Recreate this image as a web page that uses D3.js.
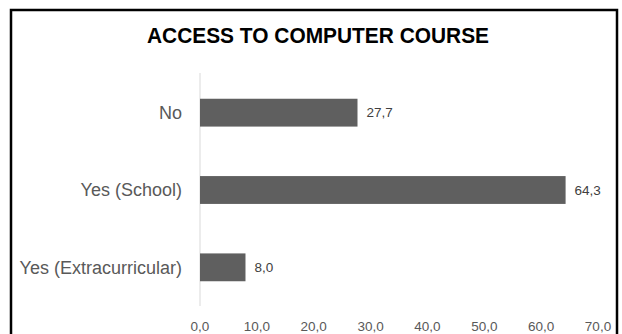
<!DOCTYPE html>
<html>
<head>
<meta charset="utf-8">
<script src="https://cdn.jsdelivr.net/npm/d3@7"></script>
<style>
  body { margin: 0; background: #fff; }
  svg { display: block; }
</style>
</head>
<body>
<script>
const categories = ["No", "Yes (School)", "Yes (Extracurricular)"];
const values = [27.7, 64.3, 8.0];
const tickValues = [0, 10, 20, 30, 40, 50, 60, 70];
const title = "ACCESS TO COMPUTER COURSE";

const W = 622, H = 334;
const fmt = v => d3.format(".1f")(v).replace(".", ",");

const svg = d3.select("body").append("svg")
    .attr("width", W)
    .attr("height", H)
    .attr("font-family", "'Liberation Sans', Arial, sans-serif");

// frame
svg.append("rect")
    .attr("x", 11).attr("y", 10)
    .attr("width", 606).attr("height", 330)
    .attr("fill", "none")
    .attr("stroke", "#000")
    .attr("stroke-width", 2.5);

svg.append("text")
    .attr("x", 318).attr("y", 43)
    .attr("text-anchor", "middle")
    .attr("font-size", 22)
    .attr("font-weight", "bold")
    .attr("fill", "#000")
    .attr("textLength", 342)
    .attr("lengthAdjust", "spacingAndGlyphs")
    .text(title);

const x = d3.scaleLinear().domain([0, 70]).range([200, 598]);
const y = d3.scaleBand().domain(categories).range([74, 306]).paddingInner(0.64).paddingOuter(0.32);

// vertical axis line
svg.append("line")
    .attr("x1", x(0)).attr("x2", x(0))
    .attr("y1", 73).attr("y2", 306)
    .attr("stroke", "#d9d9d9");

svg.append("g")
  .selectAll("rect")
  .data(values)
  .join("rect")
    .attr("x", x(0))
    .attr("y", (d, i) => y(categories[i]))
    .attr("width", d => x(d) - x(0))
    .attr("height", y.bandwidth())
    .attr("fill", "#5f5f5f");

svg.append("g")
  .selectAll("text")
  .data(values)
  .join("text")
    .attr("x", d => x(d) + 9)
    .attr("y", (d, i) => y(categories[i]) + y.bandwidth() / 2)
    .attr("dy", "0.35em")
    .attr("font-size", 13.5)
    .attr("fill", "#404040")
    .text(fmt);

svg.append("g")
  .selectAll("text")
  .data(categories)
  .join("text")
    .attr("x", 182)
    .attr("y", d => y(d) + y.bandwidth() / 2)
    .attr("dy", "0.35em")
    .attr("text-anchor", "end")
    .attr("font-size", 18)
    .attr("fill", "#595959")
    .text(d => d);

svg.append("g")
  .selectAll("text")
  .data(tickValues)
  .join("text")
    .attr("x", d => x(d))
    .attr("y", 326)
    .attr("dy", "0.35em")
    .attr("text-anchor", "middle")
    .attr("font-size", 13.5)
    .attr("fill", "#595959")
    .text(fmt);
</script>
</body>
</html>
